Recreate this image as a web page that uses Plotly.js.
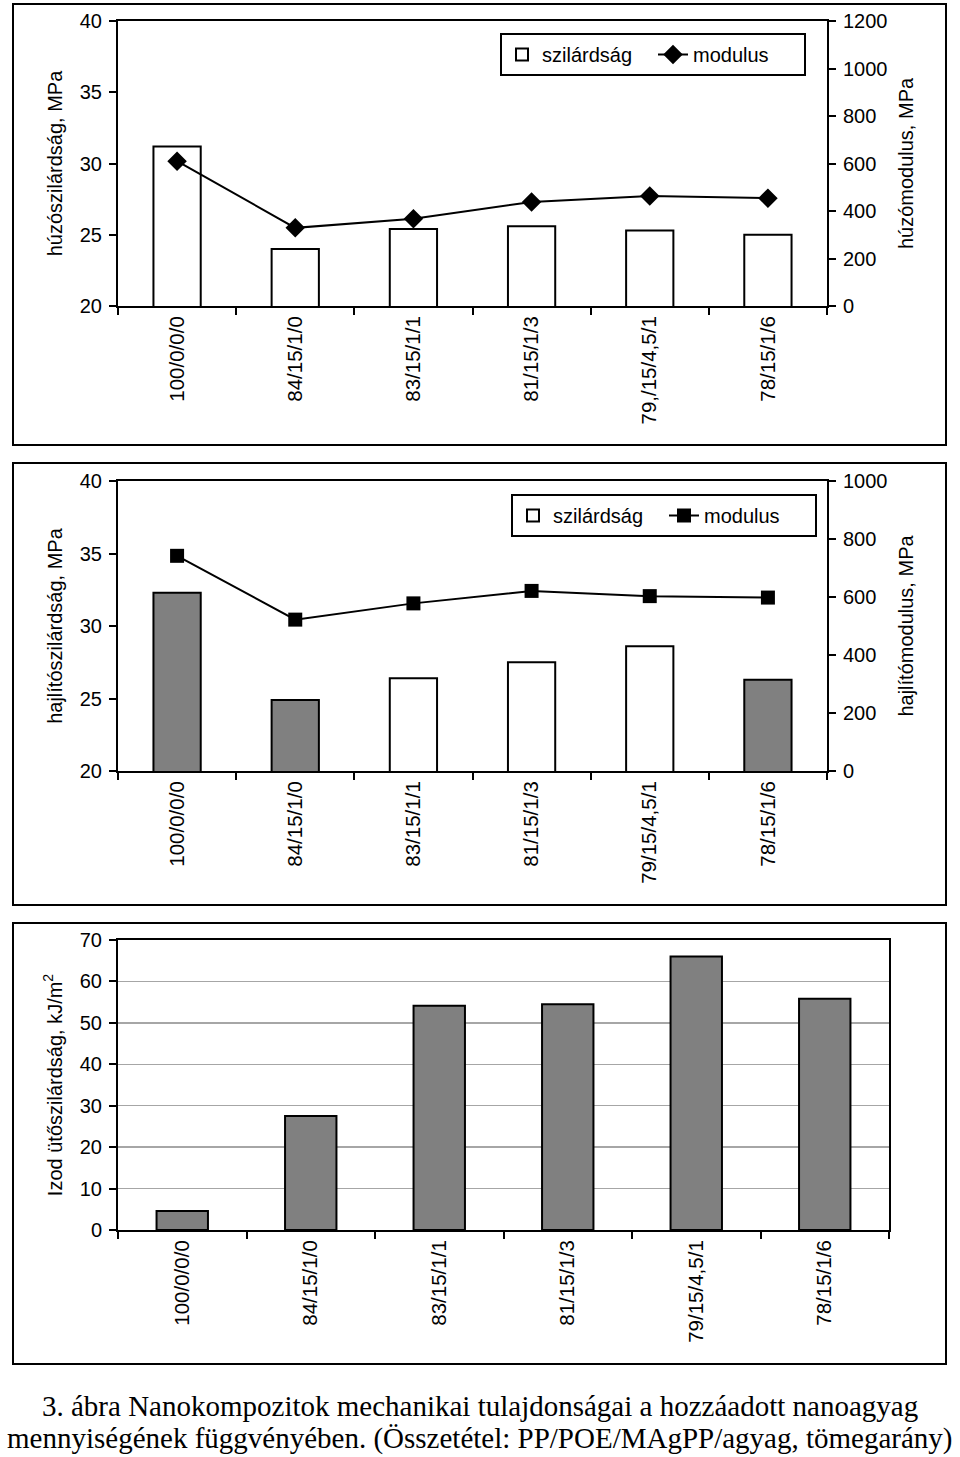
<!DOCTYPE html>
<html>
<head>
<meta charset="utf-8">
<script src="https://cdn.plot.ly/plotly-3.0.1.min.js"></script>
<style>
    body { margin: 0; background: white; }
    #chart { width: 960px; height: 1457px; }
</style>
</head>
<body>
<div id="chart"></div>
<script>
// Data
var tensileLabels = ['100/0/0/0', '84/15/1/0', '83/15/1/1', '81/15/1/3', '79,/15/4,5/1', '78/15/1/6'];
var tensileStrength = [31.2, 24.0, 25.4, 25.6, 25.3, 25.0];
var tensileModulus = [610, 329, 367, 438, 463, 454];

var flexLabels = ['100/0/0/0', '84/15/1/0', '83/15/1/1', '81/15/1/3', '79/15/4,5/1', '78/15/1/6'];
var flexStrength = [32.3, 24.9, 26.4, 27.5, 28.6, 26.3];
var flexModulus = [742, 522, 578, 621, 603, 598];
var flexGray = [true, true, false, false, false, true];

var izodLabels = ['100/0/0/0', '84/15/1/0', '83/15/1/1', '81/15/1/3', '79/15/4,5/1', '78/15/1/6'];
var izodStrength = [4.6, 27.5, 54.1, 54.5, 66.0, 55.8];

var H = 1457, W = 960;
function py(p) { return 1 - p / H; }
function px(p) { return p / W; }

var font = {family: 'Liberation Sans, Arial, sans-serif', size: 20, color: 'black'};
var catFont = {family: 'Liberation Sans, Arial, sans-serif', size: 20.5, color: 'black'};
var capFont = {family: 'Liberation Serif, Times New Roman, serif', size: 29, color: 'black'};

function pick(arr, flags, want) {
    // keep values where flag matches, others become null
    return arr.map(function (v, i) { return flags[i] === want ? v : null; });
}

var data = [
    {
        type: 'bar', x: tensileLabels, y: tensileStrength, name: 'szilárdság',
        xaxis: 'x', yaxis: 'y', legend: 'legend',
        marker: {color: 'white', line: {color: 'black', width: 2}}
    },
    {
        type: 'scatter', mode: 'lines+markers', x: tensileLabels, y: tensileModulus, name: 'modulus',
        xaxis: 'x', yaxis: 'y2', legend: 'legend',
        line: {color: 'black', width: 2},
        marker: {symbol: 'diamond', size: 15, color: 'black'}
    },
    {
        type: 'bar', x: flexLabels, y: pick(flexStrength, flexGray, false), name: 'szilárdság',
        xaxis: 'x2', yaxis: 'y3', legend: 'legend2',
        marker: {color: 'white', line: {color: 'black', width: 2}}
    },
    {
        type: 'bar', x: flexLabels, y: pick(flexStrength, flexGray, true), name: 'szilárdság',
        xaxis: 'x2', yaxis: 'y3', showlegend: false,
        marker: {color: '#808080', line: {color: 'black', width: 2}}
    },
    {
        type: 'scatter', mode: 'lines+markers', x: flexLabels, y: flexModulus, name: 'modulus',
        xaxis: 'x2', yaxis: 'y4', legend: 'legend2',
        line: {color: 'black', width: 2},
        marker: {symbol: 'square', size: 14, color: 'black'}
    },
    {
        type: 'bar', x: izodLabels, y: izodStrength, showlegend: false,
        xaxis: 'x3', yaxis: 'y5',
        marker: {color: '#808080', line: {color: 'black', width: 2}}
    }
];

var xBase = {
    type: 'category', showline: true, linecolor: 'black', linewidth: 2, mirror: true,
    ticks: 'outside', ticklen: 7, tickwidth: 2, tickcolor: 'black', tickson: 'boundaries',
    tickangle: -90, tickfont: catFont, showgrid: false, zeroline: false, fixedrange: true
};
var yBase = {
    showline: true, linecolor: 'black', linewidth: 2,
    ticks: 'outside', ticklen: 7, tickwidth: 2, tickcolor: 'black',
    tickfont: font, showgrid: false, zeroline: false, fixedrange: true, ticklabelstandoff: 3
};
function ext(base, extra) { return Object.assign({}, base, extra); }

var legendBase = {
    orientation: 'h', xanchor: 'left', yanchor: 'top', entrywidth: 106,
    bordercolor: 'black', borderwidth: 2, bgcolor: 'white', font: font
};

var layout = {
    width: W, height: H,
    margin: {l: 0, r: 0, t: 0, b: 0},
    paper_bgcolor: 'white', plot_bgcolor: 'white',
    font: font,
    barmode: 'overlay', bargap: 0.6,
    xaxis: ext(xBase, {domain: [px(118), px(827)], anchor: 'y'}),
    yaxis: ext(yBase, {domain: [py(306), py(21)], range: [20, 40], dtick: 5, anchor: 'x',
        title: {text: 'húzószilárdság, MPa', font: font, standoff: 12}}),
    yaxis2: ext(yBase, {overlaying: 'y', side: 'right', anchor: 'x', range: [0, 1200], dtick: 200,
        title: {text: 'húzómodulus, MPa', font: font, standoff: 12}}),
    xaxis2: ext(xBase, {domain: [px(118), px(827)], anchor: 'y3'}),
    yaxis3: ext(yBase, {domain: [py(771), py(481)], range: [20, 40], dtick: 5, anchor: 'x2',
        title: {text: 'hajlítószilárdság, MPa', font: font, standoff: 12}}),
    yaxis4: ext(yBase, {overlaying: 'y3', side: 'right', anchor: 'x2', range: [0, 1000], dtick: 200,
        title: {text: 'hajlítómodulus, MPa', font: font, standoff: 12}}),
    xaxis3: ext(xBase, {domain: [px(118), px(889)], anchor: 'y5'}),
    yaxis5: ext(yBase, {domain: [py(1230), py(940)], range: [0, 70], dtick: 10, anchor: 'x3', mirror: true,
        showgrid: true, gridcolor: '#a6a6a6', gridwidth: 1.5,
        title: {text: 'Izod ütőszilárdság, kJ/m<sup>2</sup>', font: font, standoff: 12}}),
    legend: ext(legendBase, {x: px(500), y: py(33)}),
    legend2: ext(legendBase, {x: px(511), y: py(494)}),
    shapes: [
        {type: 'rect', xref: 'paper', yref: 'paper', x0: px(13), x1: px(946), y0: py(445), y1: py(4),
            line: {color: 'black', width: 2}},
        {type: 'rect', xref: 'paper', yref: 'paper', x0: px(13), x1: px(946), y0: py(905), y1: py(463),
            line: {color: 'black', width: 2}},
        {type: 'rect', xref: 'paper', yref: 'paper', x0: px(13), x1: px(946), y0: py(1364), y1: py(923),
            line: {color: 'black', width: 2}}
    ],
    annotations: [
        {xref: 'paper', yref: 'paper', x: 0.5, y: py(1406), xanchor: 'center', yanchor: 'middle',
            showarrow: false, text: '3. ábra Nanokompozitok mechanikai tulajdonságai a hozzáadott nanoagyag',
            font: capFont},
        {xref: 'paper', yref: 'paper', x: 0.5, y: py(1438), xanchor: 'center', yanchor: 'middle',
            showarrow: false, text: 'mennyiségének függvényében. (Összetétel: PP/POE/MAgPP/agyag, tömegarány)',
            font: capFont}
    ]
};

Plotly.newPlot('chart', data, layout, {staticPlot: true});
</script>
</body>
</html>
